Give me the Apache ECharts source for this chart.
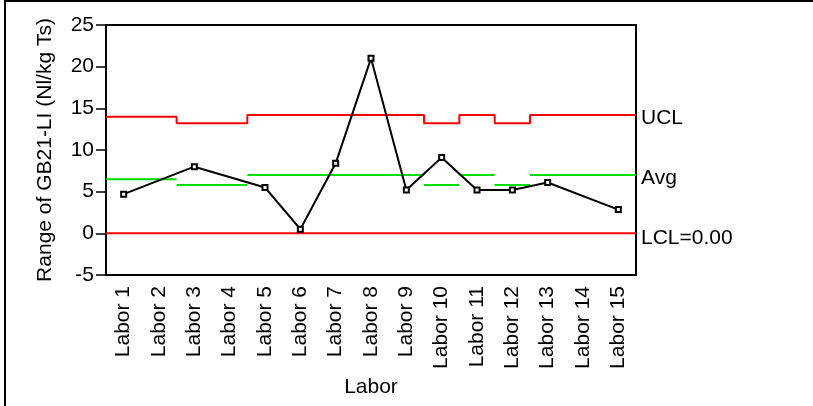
<!DOCTYPE html>
<html>
<head>
<meta charset="utf-8">
<script src="https://cdn.jsdelivr.net/npm/echarts@6/dist/echarts.min.js"></script>
<style>html,body{margin:0;padding:0;background:#fff;}#c{width:813px;height:406px;}</style>
</head>
<body>
<div id="c"></div>
<script>
var categories = ['Labor 1','Labor 2','Labor 3','Labor 4','Labor 5','Labor 6','Labor 7','Labor 8','Labor 9','Labor 10','Labor 11','Labor 12','Labor 13','Labor 14','Labor 15'];
var ranges = [4.7, null, 8.0, null, 5.5, 0.5, 8.4, 21.0, 5.2, 9.1, 5.2, 5.2, 6.1, null, 2.85];
var ucl = [14.0, 14.0, 13.2, 13.2, 14.2, 14.2, 14.2, 14.2, 14.2, 13.2, 14.2, 13.2, 14.2, 14.2, 14.2];
var avg = [6.5, 6.5, 5.8, 5.8, 7.0, 7.0, 7.0, 7.0, 7.0, 5.8, 7.0, 5.8, 7.0, 7.0, 7.0];
var lcl = [0, 0, 0, 0, 0, 0, 0, 0, 0, 0, 0, 0, 0, 0, 0];
var yTicks = [-5, 0, 5, 10, 15, 20, 25];

function stepData(vals, breakOnChange) {
  var d = [];
  for (var i = 0; i < vals.length; i++) {
    if (breakOnChange && i > 0 && vals[i] !== vals[i - 1]) d.push([i, '-']);
    d.push([i, vals[i]]);
    d.push([i + 1, vals[i]]);
  }
  return d;
}

var FONT = 'Liberation Sans, Arial, sans-serif';
var FS = 21;
var chart = echarts.init(document.getElementById('c'), null, {renderer: 'canvas'});
chart.setOption({
  animation: false,
  backgroundColor: '#fff',
  graphic: [{
    type: 'rect', shape: {x: 5, y: 1, width: 1000, height: 1000},
    style: {fill: 'none', stroke: '#000', lineWidth: 2}, silent: true
  }],
  grid: {left: 106, right: 177, top: 25, bottom: 131, show: true, borderColor: '#000', borderWidth: 2},
  xAxis: [{
    type: 'category', data: categories, boundaryGap: true,
    name: 'Labor', nameLocation: 'middle', nameGap: 97,
    nameTextStyle: {fontFamily: FONT, fontSize: FS, color: '#000'},
    axisLine: {onZero: false, lineStyle: {color: '#000', width: 2}},
    axisTick: {alignWithLabel: true, length: 10, lineStyle: {color: '#000', width: 1.5}},
    axisLabel: {rotate: 90, margin: 11, interval: 0, fontFamily: FONT, fontSize: FS, color: '#000'},
    splitLine: {show: false}
  }, {
    type: 'value', min: 0, max: 15, show: false, axisLine: {onZero: false}
  }],
  yAxis: {
    type: 'value', min: yTicks[0], max: yTicks[yTicks.length - 1], interval: 5,
    name: 'Range of GB21-LI (Nl/kg Ts)', nameLocation: 'middle', nameGap: 50, nameRotate: 90,
    nameTextStyle: {fontFamily: FONT, fontSize: FS, color: '#000'},
    axisLine: {show: true, onZero: false, lineStyle: {color: '#000', width: 2}},
    axisTick: {show: true, length: 10, lineStyle: {color: '#000', width: 1.5}},
    axisLabel: {margin: 12, fontFamily: FONT, fontSize: FS, color: '#000'},
    splitLine: {show: false}
  },
  series: [{
    type: 'line', xAxisIndex: 1, data: stepData(ucl, false), symbol: 'none',
    lineStyle: {color: '#ff0000', width: 2}, z: 2,
    endLabel: {show: true, formatter: 'UCL', distance: 5, offset: [0, 3], fontFamily: FONT, fontSize: FS, color: '#000'}
  }, {
    type: 'line', xAxisIndex: 1, data: stepData(avg, true), symbol: 'none',
    lineStyle: {color: '#00dd00', width: 2}, z: 2,
    endLabel: {show: true, formatter: 'Avg', distance: 5, offset: [0, 3], fontFamily: FONT, fontSize: FS, color: '#000'}
  }, {
    type: 'line', xAxisIndex: 1, data: stepData(lcl, false), symbol: 'none',
    lineStyle: {color: '#ff0000', width: 2}, z: 2,
    endLabel: {show: true, formatter: 'LCL=0.00', distance: 5, offset: [0, 5], fontFamily: FONT, fontSize: FS, color: '#000'}
  }, {
    type: 'line', xAxisIndex: 0, data: ranges, connectNulls: true,
    symbol: 'rect', symbolSize: 5, showAllSymbol: true,
    itemStyle: {color: '#fff', borderColor: '#000', borderWidth: 2},
    lineStyle: {color: '#000', width: 2}, z: 5
  }]
});
</script>
</body>
</html>
